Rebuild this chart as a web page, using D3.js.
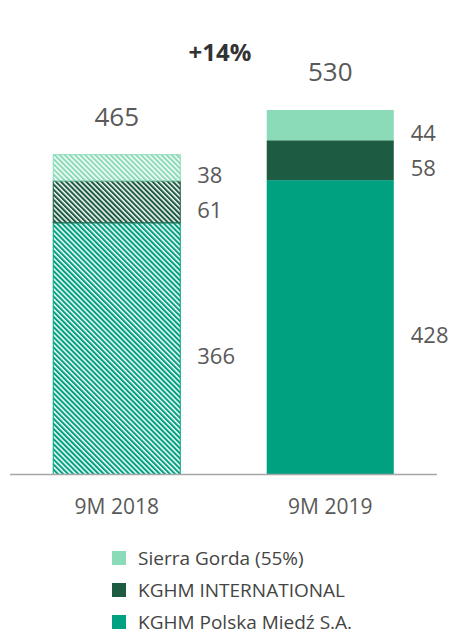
<!DOCTYPE html>
<html>
<head>
  <meta charset="utf-8">
  <title>KGHM</title>
  <script src="https://d3js.org/d3.v7.min.js"></script>
  <style>
    body { margin: 0; background: #fff; }
    text { font-family: "Open Sans", sans-serif; }
  </style>
</head>
<body>
<div id="chart"></div>
<script>
  // dane
  let categories = ['9M 2018', '9M 2019'];
  let seriesNames = ['KGHM Polska Miedź S.A.', 'KGHM INTERNATIONAL', 'Sierra Gorda (55%)'];
  let polska = [366, 428];
  let international = [61, 58];
  let sierra = [38, 44];
  let totals = [465, 530];
  let change = '+14%';
  let colors = ['#00a181', '#1d5b43', '#8bdbb8'];

  let W = 451, H = 636;
  let base = 474.5;

  let svg = d3.select('#chart').append('svg')
      .attr('width', W)
      .attr('height', H);

  let rows = categories.map((c, i) => ({
    cat: c, i: i,
    s0: polska[i], s1: international[i], s2: sierra[i]
  }));
  let stacked = d3.stack().keys(['s0', 's1', 's2'])(rows);

  let x = d3.scaleBand()
      .domain(categories)
      .range([10, 437])
      .paddingInner(0.405)
      .paddingOuter(0.2025);

  let y = d3.scaleLinear()
      .domain([0, 530])
      .range([base, 110]);

  // wzory ukośne dla 2018
  let defs = svg.append('defs');
  colors.forEach((c, k) => {
    let p = defs.append('pattern')
        .attr('id', 'hatch' + k)
        .attr('patternUnits', 'userSpaceOnUse')
        .attr('width', 3.6)
        .attr('height', 3.6)
        .attr('patternTransform', 'rotate(-45)');
    p.append('rect').attr('width', 3.6).attr('height', 3.6).attr('fill', '#fff');
    p.append('rect').attr('width', 2.1).attr('height', 3.6).attr('fill', c);
  });

  // słupki
  stacked.forEach((layer, k) => {
    svg.append('g').selectAll('rect')
      .data(layer)
      .enter()
      .append('rect')
        .attr('x', d => x(d.data.cat))
        .attr('width', x.bandwidth())
        .attr('y', d => y(d[1]))
        .attr('height', d => y(d[0]) - y(d[1]))
        .attr('fill', d => d.data.i === 0 ? `url(#hatch${k})` : colors[k])
        .attr('stroke', d => d.data.i === 0 ? colors[k] : 'none')
        .attr('stroke-width', 1);

    // etykiety segmentów
    svg.append('g').selectAll('text')
      .data(layer)
      .enter()
      .append('text')
        .attr('x', d => x(d.data.cat) + x.bandwidth() + 17)
        .attr('y', d => (y(d[0]) + y(d[1])) / 2 + 8)
        .attr('dy', '0.35em')
        .attr('font-size', '22px')
        .attr('fill', '#595959')
        .text(d => d[1] - d[0]);
  });

  // sumy
  svg.append('g').selectAll('text')
    .data(totals)
    .enter()
    .append('text')
      .attr('x', (d, i) => x(categories[i]) + x.bandwidth() / 2)
      .attr('y', d => y(d) - 29)
      .attr('text-anchor', 'middle')
      .attr('font-size', '26px')
      .attr('fill', '#595959')
      .text(d => d);

  svg.append('text')
    .attr('x', 220)
    .attr('y', 61)
    .attr('text-anchor', 'middle')
    .attr('font-size', '24px')
    .attr('font-weight', 'bold')
    .attr('fill', '#333')
    .text(change);

  // oś X
  svg.append('line')
    .attr('x1', 10).attr('x2', 437)
    .attr('y1', base).attr('y2', base)
    .attr('stroke', '#a6a6a6')
    .attr('stroke-width', 1.5);

  svg.append('g').selectAll('text')
    .data(categories)
    .enter()
    .append('text')
      .attr('x', d => x(d) + x.bandwidth() / 2)
      .attr('y', 514)
      .attr('text-anchor', 'middle')
      .attr('font-size', '21px')
      .attr('fill', '#595959')
      .text(d => d);

  // legenda
  let legend = svg.append('g').selectAll('g')
    .data(seriesNames.map((n, k) => ({name: n, color: colors[k]})).reverse())
    .enter()
    .append('g')
      .attr('transform', (d, i) => `translate(112, ${551 + i * 32})`);
  legend.append('rect')
    .attr('width', 14).attr('height', 14)
    .attr('fill', d => d.color);
  legend.append('text')
    .attr('x', 26)
    .attr('y', 14)
    .attr('font-size', '19px')
    .attr('fill', '#444')
    .text(d => d.name);
</script>
</body>
</html>
